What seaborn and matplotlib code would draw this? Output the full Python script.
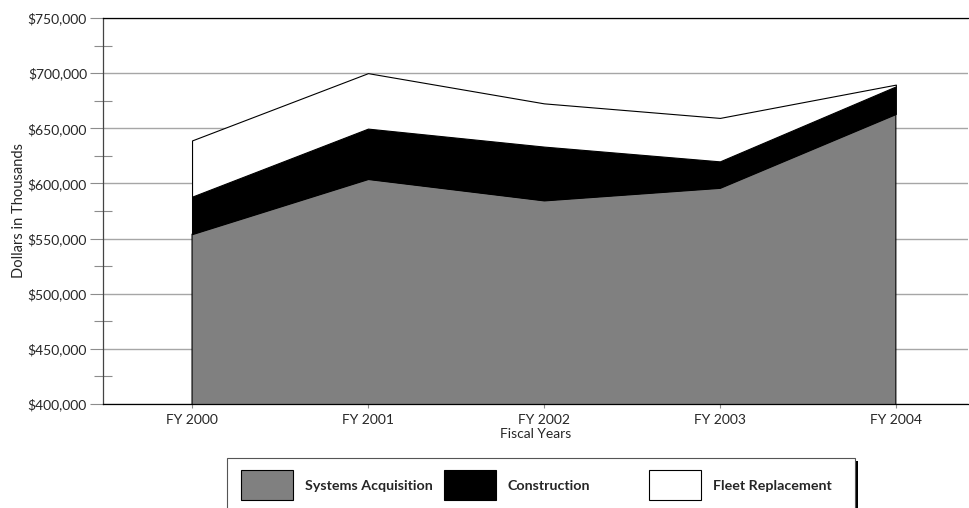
import matplotlib
matplotlib.use("Agg")
import matplotlib.pyplot as plt
from matplotlib.patches import Rectangle
from matplotlib.ticker import FuncFormatter, MultipleLocator
import seaborn as sns
import numpy as np

# data (dollars in thousands)
years = ["FY 2000", "FY 2001", "FY 2002", "FY 2003", "FY 2004"]
systemsAcquisition = [554000, 604000, 584600, 596000, 663000]
construction = [34000, 45700, 48800, 24000, 25000]
fleetReplacement = [51000, 50300, 39200, 39400, 1600]

seriesNames = ["Systems Acquisition", "Construction", "Fleet Replacement"]
seriesColors = ["#808080", "#000000", "#ffffff"]

sns.set_theme(style="white")
plt.rcParams["font.family"] = ["Lato", "DejaVu Sans"]

fig = plt.figure(figsize=(9.7, 5.08), dpi=100)
ax = fig.add_axes([103 / 970, 104 / 508, 865 / 970, 386 / 508])

x = np.arange(len(years))
ax.stackplot(x, systemsAcquisition, construction, fleetReplacement,
             colors=seriesColors, edgecolor="black", linewidth=0.8,
             baseline="zero", zorder=3)

ax.set_ylim(400000, 750000)
ax.set_xlim(-0.506, 4.41)
ax.yaxis.set_major_locator(MultipleLocator(50000))
ax.yaxis.set_minor_locator(MultipleLocator(25000))
ax.yaxis.set_major_formatter(FuncFormatter(lambda v, p: f"${v:,.0f}"))
ax.set_xticks(x)
ax.set_xticklabels(years)

ax.grid(axis="y", which="major", color="#a6a6a6", linewidth=1.0, zorder=0)
ax.set_axisbelow(True)
ax.tick_params(axis="y", which="major", direction="out", length=9.5,
               width=0.8, color="#8c8c8c", labelsize=10, pad=2, left=True)
ax.tick_params(axis="y", which="minor", direction="inout", length=12.5,
               width=0.8, color="#8c8c8c", left=True)
ax.tick_params(axis="x", which="major", direction="out", length=3,
               width=0.8, color="#8c8c8c", labelsize=10, pad=4, bottom=True)

for side in ["left", "top", "bottom"]:
    ax.spines[side].set_visible(True)
    ax.spines[side].set_linewidth(0.9)
ax.spines["left"].set_color("#444444")
ax.spines["top"].set_color("black")
ax.spines["bottom"].set_color("black")
ax.spines["right"].set_visible(False)
for s in ax.spines.values():
    s.set_zorder(5)

ax.set_ylabel("Dollars in Thousands", fontsize=10.5, labelpad=1)
ax.set_xlabel("Fiscal Years", fontsize=10, labelpad=2)

# legend box drawn in pixel-based figure coordinates
def fx(px):
    return px / 970

def fy(py):
    return 1 - py / 508

fig.patches.append(Rectangle((fx(855), fy(520)), 3.5 / 970, (520 - 461) / 508,
                             transform=fig.transFigure, facecolor="black",
                             edgecolor="none"))
fig.patches.append(Rectangle((fx(227), fy(520)), (855 - 227) / 970, (520 - 458) / 508,
                             transform=fig.transFigure, facecolor="white",
                             edgecolor="#555555", linewidth=0.8))

boxStarts = [241, 444, 649]
for name, color, bx in zip(seriesNames, seriesColors, boxStarts):
    fig.patches.append(Rectangle((fx(bx), fy(500)), 52 / 970, 30 / 508,
                                 transform=fig.transFigure, facecolor=color,
                                 edgecolor="black", linewidth=0.8))
    fig.text(fx(bx + 64), fy(486), name, fontsize=10.3, fontweight="bold",
             va="center", ha="left")

fig.savefig("out.png", dpi=100)
